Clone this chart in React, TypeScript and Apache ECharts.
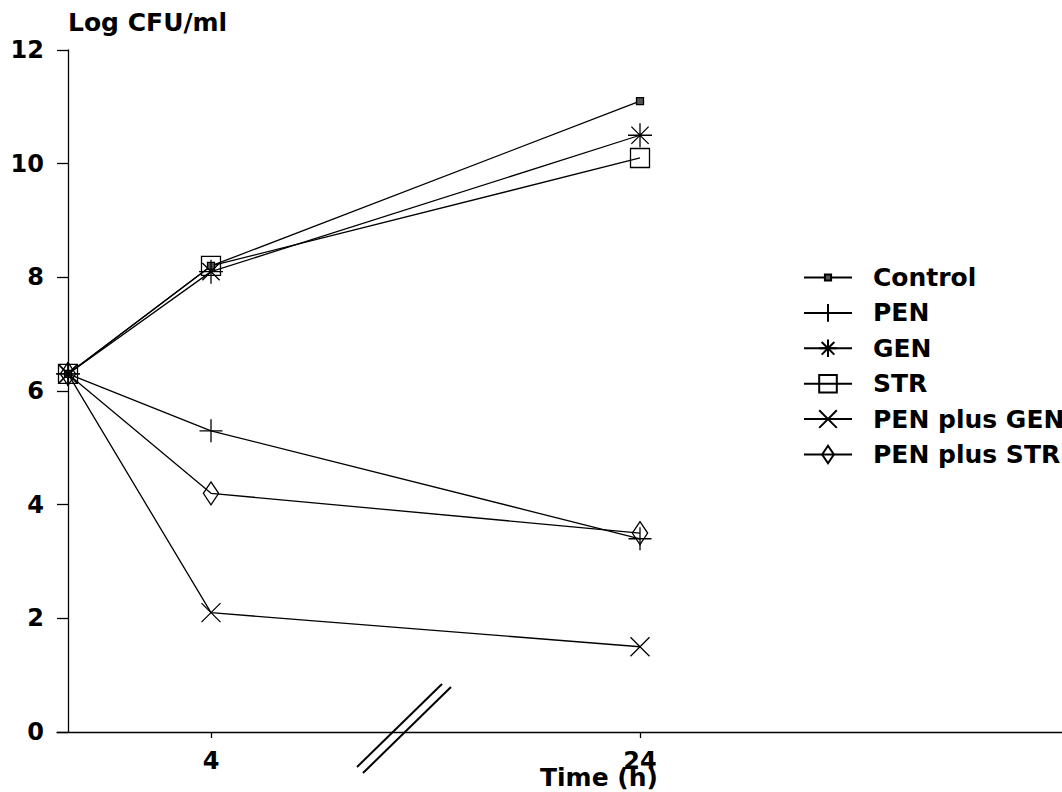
import React, { useEffect, useRef } from 'react';
import * as echarts from 'echarts';

// Time points (hours) and their positions on the broken time axis
const hours = [0, 4, 24];
const hourPositions = [0, 1, 4];
const xTickPositions = [1, 4];
const xTickLabels = ['4', '24'];

const seriesNames = ['Control', 'PEN', 'GEN', 'STR', 'PEN plus GEN', 'PEN plus STR'];
const control = [6.3, 8.2, 11.1];
const pen = [6.3, 5.3, 3.4];
const gen = [6.3, 8.1, 10.5];
const str = [6.3, 8.2, 10.1];
const penGen = [6.3, 2.1, 1.5];
const penStr = [6.3, 4.2, 3.5];

const yMin = 0;
const yMax = 12;
const yStep = 2;

const FONT = '"DejaVu Sans", "Liberation Sans", Arial, sans-serif';

const symbols = [
  'path://M0,0 M20,20 M6.5,6.5 L13.5,6.5 L13.5,13.5 L6.5,13.5 Z',
  'path://M0,10 L20,10 M10,0 L10,20',
  'path://M0,10 L20,10 M10,0 L10,20 M2.8,2.8 L17.2,17.2 M17.2,2.8 L2.8,17.2',
  'path://M0,0 L20,0 L20,20 L0,20 Z',
  'path://M0,0 L20,20 M20,0 L0,20',
  'path://M0,0 M24,24 M4,12 L12,0 L20,12 L12,24 Z',
];
const symbolSizes = [20, 23, 24, 19, 19, 23];
const fills = ['#555', 'transparent', 'transparent', 'transparent', 'transparent', 'transparent'];

export default function App() {
  const ref = useRef<HTMLDivElement>(null);
  useEffect(() => {
    if (!ref.current) return;
    const chart = echarts.init(ref.current, null, { renderer: 'svg' });
    const allValues = [control, pen, gen, str, penGen, penStr];
    const pxPerUnit = 143;
    const xMin = -11 / pxPerUnit;
    const xMax = xMin + 1005 / pxPerUnit;
    const labelFor = (v: number) => {
      const idx = xTickPositions.findIndex((p) => Math.abs(p - v) < 1e-6);
      return idx >= 0 ? xTickLabels[idx] : '';
    };
    const axisLineStyle = { color: '#000', width: 1.3 };
    chart.setOption({
      animation: false,
      backgroundColor: '#fff',
      grid: { left: 57, right: 0, top: 50, bottom: 60 },
      xAxis: {
        type: 'value',
        min: xMin,
        max: xMax,
        axisLine: { show: true, onZero: true, lineStyle: axisLineStyle },
        splitLine: { show: false },
        axisTick: { show: true, customValues: xTickPositions, length: 6, lineStyle: axisLineStyle },
        axisLabel: {
          show: true,
          customValues: xTickPositions,
          formatter: (v: number) => labelFor(v),
          margin: 17,
          fontSize: 24,
          fontWeight: 'bold',
          fontFamily: FONT,
          color: '#000',
        },
      },
      yAxis: {
        type: 'value',
        min: yMin,
        max: yMax,
        interval: yStep,
        name: 'Log CFU/ml',
        nameLocation: 'end',
        nameGap: 28,
        nameTextStyle: {
          align: 'left',
          verticalAlign: 'middle',
          fontSize: 25,
          fontWeight: 'bold',
          fontFamily: FONT,
          color: '#000',
        },
        axisLine: { show: true, onZero: true, lineStyle: axisLineStyle },
        splitLine: { show: false },
        axisTick: { show: true, length: 11, lineStyle: axisLineStyle },
        axisLabel: {
          show: true,
          margin: 13,
          fontSize: 24,
          fontWeight: 'bold',
          fontFamily: FONT,
          color: '#000',
        },
      },
      legend: {
        orient: 'vertical',
        left: 803,
        top: 265,
        padding: 0,
        itemWidth: 48,
        itemHeight: 22,
        itemGap: 10.4,
        data: seriesNames,
        textStyle: {
          fontSize: 25,
          fontWeight: 'bold',
          fontFamily: FONT,
          color: '#000',
          lineHeight: 22,
          padding: [0, 0, 0, 16],
        },
      },
      series: seriesNames.map((name, si) => ({
        name,
        type: 'line',
        data: hours.map((_, i) => [hourPositions[i], allValues[si][i]]),
        symbol: symbols[si],
        symbolSize: symbolSizes[si],
        symbolKeepAspect: true,
        showSymbol: true,
        lineStyle: { color: '#000', width: 1.3 },
        itemStyle: { color: fills[si], borderColor: '#000', borderWidth: 1.3 },
        emphasis: { disabled: true },
      })),
      graphic: [
        {
          type: 'text',
          left: 540,
          top: 765,
          style: {
            text: 'Time (h)',
            fontSize: 25,
            fontWeight: 'bold',
            fontFamily: FONT,
            fill: '#000',
          },
        },
        {
          type: 'line',
          shape: { x1: 357, y1: 767, x2: 442, y2: 684 },
          style: { stroke: '#000', lineWidth: 2 },
        },
        {
          type: 'line',
          shape: { x1: 363, y1: 773, x2: 451, y2: 687 },
          style: { stroke: '#000', lineWidth: 2 },
        },
      ],
    });
    return () => chart.dispose();
  }, []);
  return (
    <div
      ref={ref}
      style={{ position: 'absolute', left: 0, top: 0, width: 1062, height: 792 }}
    />
  );
}
